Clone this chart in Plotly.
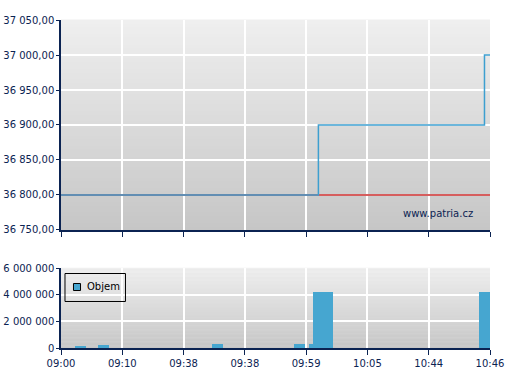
import plotly.graph_objects as go

# ---- data ----
tick_pos = [0, 10, 20, 30, 40, 50, 60, 70]
tick_labels = ["09:00", "09:10", "09:38", "09:38", "09:59", "10:05", "10:44", "10:46"]

price_x = [0, 42.0, 69.1, 70]
price_y = [36800, 36900, 37000, 37000]
prev_close = 36800

vol_x = [3.2, 6.9, 25.5, 38.9, 41.4, 42.0, 43.4, 69.1]
vol_y = [150000, 225000, 300000, 300000, 300000, 4200000, 4200000, 4200000]
series_name = "Objem"

# ---- style ----
NAVY = "#0b2352"
BLUE = "#46a6d0"
FONT = dict(family="DejaVu Sans", size=10, color=NAVY)

fig = go.Figure()

fig.add_trace(go.Scatter(x=[0, 70], y=[prev_close, prev_close], mode="lines",
                         line=dict(color="#c82828", width=1.5), showlegend=False,
                         xaxis="x", yaxis="y", hoverinfo="skip"))
fig.add_trace(go.Scatter(x=price_x, y=price_y, mode="lines", line_shape="hv",
                         line=dict(color="#3d9fd0", width=1.5), showlegend=False,
                         xaxis="x", yaxis="y"))
fig.add_trace(go.Bar(x=vol_x, y=vol_y, width=1.8, marker=dict(color=BLUE, line=dict(width=0)),
                     showlegend=False, xaxis="x2", yaxis="y2", name=series_name))

# gradient backgrounds
shapes = []
N = 60
top_c = (239, 239, 239)
bot_c = (198, 198, 198)
for ax in ["", "2"]:
    for i in range(N):
        t = (i + 0.5) / N
        c = tuple(round(bot_c[k] + (top_c[k] - bot_c[k]) * t) for k in range(3))
        shapes.append(dict(type="rect", xref=f"x{ax} domain", yref=f"y{ax} domain",
                           x0=0, x1=1, y0=i / N, y1=(i + 1) / N + 0.002,
                           fillcolor="rgb(%d,%d,%d)" % c, line=dict(width=0),
                           layer="below"))

# legend box (drawn manually to match compact legend)
shapes.append(dict(type="rect", xref="paper", yref="paper", x0=0.0093, x1=0.1503,
                   y0=0.1418, y1=0.2271, line=dict(color="black", width=1),
                   fillcolor="rgba(0,0,0,0)", layer="above"))
shapes.append(dict(type="rect", xref="paper", yref="paper", x0=0.0291, x1=0.0455,
                   y0=0.1753, y1=0.1966, line=dict(color="black", width=1),
                   fillcolor=BLUE, layer="above"))

axis_common = dict(showline=True, linecolor=NAVY, linewidth=1.5, gridcolor="white",
                   gridwidth=2, ticks="outside", tickcolor=NAVY, zeroline=False,
                   tickfont=FONT, automargin=False)

fig.update_layout(
    width=507, height=380,
    margin=dict(l=61, r=17, t=20, b=32),
    paper_bgcolor="white", plot_bgcolor="#dddddd",
    separators=", ",
    font=FONT,
    shapes=shapes,
    bargap=0,
    showlegend=False,
    xaxis=dict(domain=[0, 1], range=[0, 70], tickvals=tick_pos, ticktext=tick_labels,
               showticklabels=False, ticklen=5, anchor="y", **axis_common),
    yaxis=dict(domain=[0.3598, 1], range=[36750, 37050], dtick=50, tickformat=",.2f",
               ticklen=3, anchor="x", **axis_common),
    xaxis2=dict(domain=[0, 1], range=[0, 70], tickvals=tick_pos, ticktext=tick_labels,
                ticklen=5, anchor="y2", **axis_common),
    yaxis2=dict(domain=[0, 0.2439], range=[0, 6000000], dtick=2000000, tickformat=",d",
                ticklen=3, anchor="x2", **axis_common),
    annotations=[
        dict(text="www.patria.cz", xref="x domain", yref="y domain",
             x=0.965, y=0.08, xanchor="right", yanchor="middle",
             showarrow=False, font=dict(family="DejaVu Sans", size=10, color=NAVY)),
        dict(text=series_name, xref="paper", yref="paper", x=0.0559, y=0.186,
             xanchor="left", yanchor="middle", showarrow=False,
             font=dict(family="DejaVu Sans", size=10, color="black")),
    ],
)

fig.write_html("out.html", config={"displayModeBar": False},
               post_script="document.body.style.margin='0';")
